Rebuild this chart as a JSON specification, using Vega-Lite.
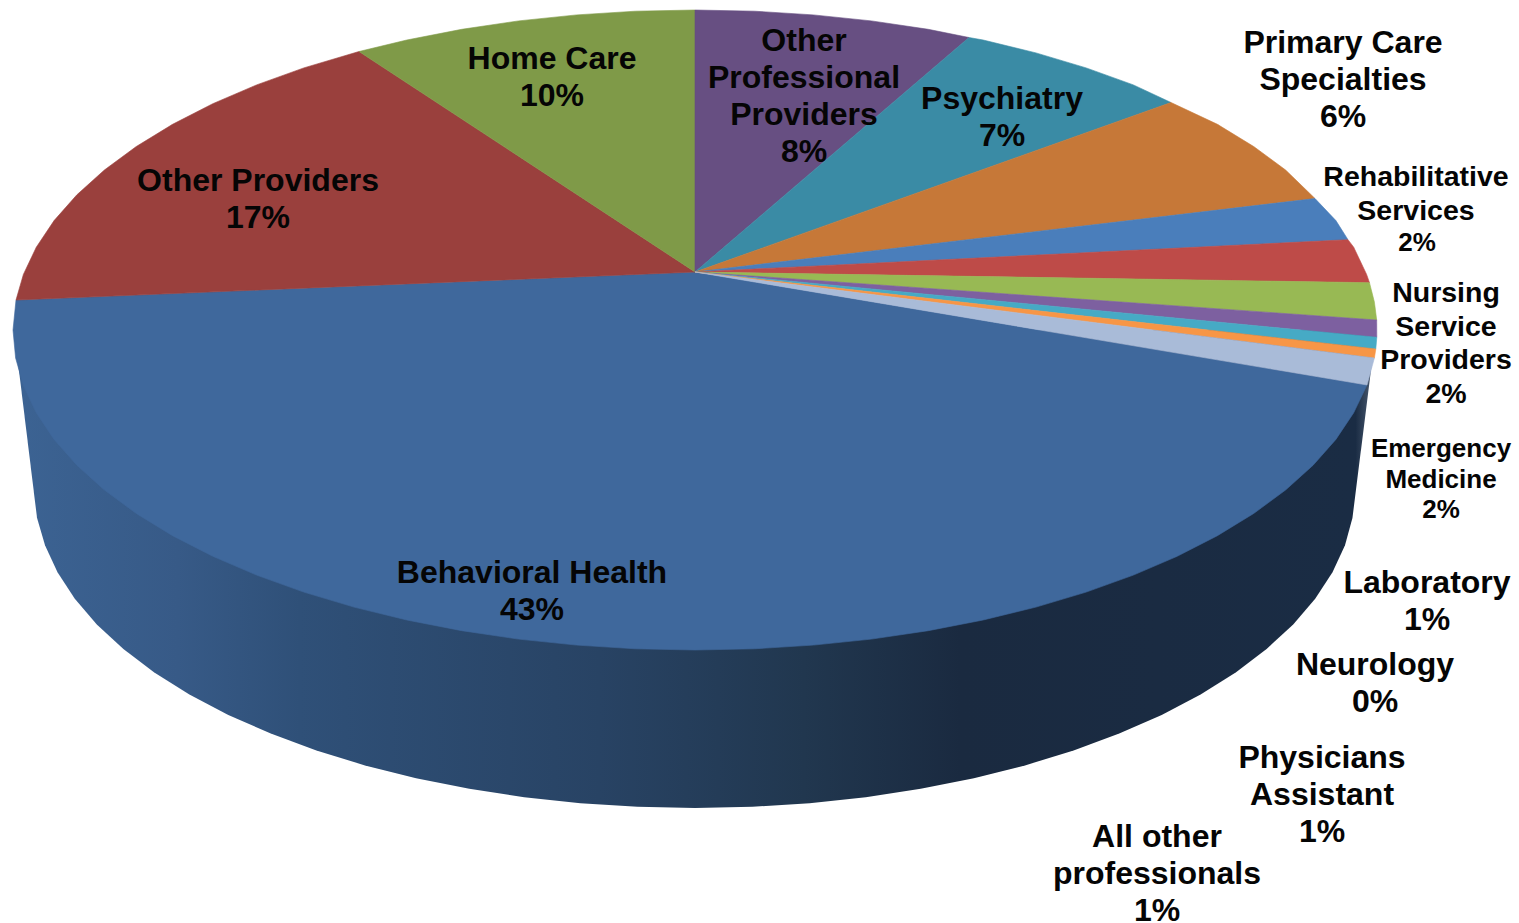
{"$schema":"https://vega.github.io/schema/vega-lite/v6.json","width":1519,"height":923,"padding":0,"autosize":{"type":"fit","contains":"padding"},"background":"white","view":{"stroke":null},
"encoding":{"x":{"field":"x","type":"quantitative","axis":null,"scale":{"domain":[0,1519],"range":[0,1519],"nice":false,"zero":false}},"y":{"field":"y","type":"quantitative","axis":null,"scale":{"domain":[0,923],"range":[0,923],"nice":false,"zero":false}}},
"layer":[
{"data":{"values":[
{"i":1,"x":1352.5,"y":517.7},{"i":2,"x":1345,"y":545.2},{"i":3,"x":1332.5,"y":572.3},{"i":4,"x":1315.2,"y":598.8},{"i":5,"x":1293.2,"y":624.4},{"i":6,"x":1266.6,"y":649},{"i":7,"x":1235.7,"y":672.4},{"i":8,"x":1200.6,"y":694.4},{"i":9,"x":1161.7,"y":714.9},{"i":10,"x":1119.2,"y":733.6},{"i":11,"x":1073.6,"y":750.5},{"i":12,"x":1025,"y":765.4},{"i":13,"x":973.9,"y":778.2},{"i":14,"x":920.7,"y":788.8},{"i":15,"x":865.8,"y":797.2},{"i":16,"x":809.6,"y":803.2},{"i":17,"x":752.5,"y":806.8},{"i":18,"x":695,"y":808},{"i":19,"x":637.5,"y":806.8},{"i":20,"x":580.4,"y":803.2},{"i":21,"x":524.2,"y":797.2},{"i":22,"x":469.3,"y":788.8},{"i":23,"x":416.1,"y":778.2},{"i":24,"x":365,"y":765.4},{"i":25,"x":316.4,"y":750.5},{"i":26,"x":270.8,"y":733.6},{"i":27,"x":228.3,"y":714.9},{"i":28,"x":189.4,"y":694.4},{"i":29,"x":154.3,"y":672.4},{"i":30,"x":123.4,"y":649},{"i":31,"x":96.8,"y":624.4},{"i":32,"x":74.8,"y":598.8},{"i":33,"x":57.5,"y":572.3},{"i":34,"x":45,"y":545.2},{"i":35,"x":37,"y":517.7},{"i":37,"x":14,"y":330},{"i":38,"x":1376,"y":330}]},
"mark":{"type":"line","interpolate":"linear","strokeWidth":0,"fill":{"gradient":"linear","x1":0,"y1":0,"x2":1,"y2":0,"stops":[{"offset":0,"color":"#3c6393"},{"offset":0.12,"color":"#375a87"},{"offset":0.21,"color":"#2f5078"},{"offset":0.43,"color":"#284364"},{"offset":0.58,"color":"#21374f"},{"offset":0.695,"color":"#1a2a40"},{"offset":0.985,"color":"#1a2c44"},{"offset":1,"color":"#56657a"}]}},
"encoding":{"order":{"field":"i","type":"quantitative"}}},
{"data":{"values":[
{"s":"Behavioral Health","i":0,"x":695,"y":272},{"s":"Behavioral Health","i":1,"x":1367,"y":385},{"s":"Behavioral Health","i":2,"x":1353.7,"y":412.8},{"s":"Behavioral Health","i":3,"x":1335.9,"y":439.4},{"s":"Behavioral Health","i":4,"x":1313.1,"y":465.2},{"s":"Behavioral Health","i":5,"x":1285.6,"y":490},{"s":"Behavioral Health","i":6,"x":1253.7,"y":513.5},{"s":"Behavioral Health","i":7,"x":1217.4,"y":535.7},{"s":"Behavioral Health","i":8,"x":1177.2,"y":556.3},{"s":"Behavioral Health","i":9,"x":1133.4,"y":575.1},{"s":"Behavioral Health","i":10,"x":1086.2,"y":592.1},{"s":"Behavioral Health","i":11,"x":1036,"y":607.1},{"s":"Behavioral Health","i":12,"x":983.2,"y":620},{"s":"Behavioral Health","i":13,"x":928.2,"y":630.7},{"s":"Behavioral Health","i":14,"x":871.5,"y":639.1},{"s":"Behavioral Health","i":15,"x":813.4,"y":645.1},{"s":"Behavioral Health","i":16,"x":754.5,"y":648.8},{"s":"Behavioral Health","i":17,"x":695,"y":650},{"s":"Behavioral Health","i":18,"x":635.5,"y":648.8},{"s":"Behavioral Health","i":19,"x":576.6,"y":645.1},{"s":"Behavioral Health","i":20,"x":518.5,"y":639.1},{"s":"Behavioral Health","i":21,"x":461.8,"y":630.7},{"s":"Behavioral Health","i":22,"x":406.8,"y":620},{"s":"Behavioral Health","i":23,"x":354,"y":607.1},{"s":"Behavioral Health","i":24,"x":303.8,"y":592.1},{"s":"Behavioral Health","i":25,"x":256.6,"y":575.1},{"s":"Behavioral Health","i":26,"x":212.8,"y":556.3},{"s":"Behavioral Health","i":27,"x":172.6,"y":535.7},{"s":"Behavioral Health","i":28,"x":136.3,"y":513.5},{"s":"Behavioral Health","i":29,"x":104.4,"y":490},{"s":"Behavioral Health","i":30,"x":76.9,"y":465.2},{"s":"Behavioral Health","i":31,"x":54.1,"y":439.4},{"s":"Behavioral Health","i":32,"x":36.3,"y":412.8},{"s":"Behavioral Health","i":33,"x":23.4,"y":385.6},{"s":"Behavioral Health","i":34,"x":15.6,"y":357.9},{"s":"Behavioral Health","i":35,"x":13,"y":330},{"s":"Behavioral Health","i":36,"x":16,"y":300},{"s":"Behavioral Health","i":37,"x":695,"y":272},
{"s":"Other Providers","i":0,"x":695,"y":272},{"s":"Other Providers","i":1,"x":16,"y":300},{"s":"Other Providers","i":2,"x":23.4,"y":274.4},{"s":"Other Providers","i":3,"x":36.3,"y":247.2},{"s":"Other Providers","i":4,"x":54.1,"y":220.6},{"s":"Other Providers","i":5,"x":76.9,"y":194.8},{"s":"Other Providers","i":6,"x":104.4,"y":170},{"s":"Other Providers","i":7,"x":136.3,"y":146.5},{"s":"Other Providers","i":8,"x":172.6,"y":124.3},{"s":"Other Providers","i":9,"x":212.8,"y":103.7},{"s":"Other Providers","i":10,"x":256.6,"y":84.9},{"s":"Other Providers","i":11,"x":303.8,"y":67.9},{"s":"Other Providers","i":12,"x":359,"y":51.5},{"s":"Other Providers","i":13,"x":695,"y":272},
{"s":"Home Care","i":0,"x":695,"y":272},{"s":"Home Care","i":1,"x":359,"y":51.5},{"s":"Home Care","i":2,"x":406.8,"y":40},{"s":"Home Care","i":3,"x":461.8,"y":29.3},{"s":"Home Care","i":4,"x":518.5,"y":20.9},{"s":"Home Care","i":5,"x":576.6,"y":14.9},{"s":"Home Care","i":6,"x":635.5,"y":11.2},{"s":"Home Care","i":7,"x":695,"y":10},{"s":"Home Care","i":8,"x":695,"y":272},
{"s":"Other Professional Providers","i":0,"x":695,"y":272},{"s":"Other Professional Providers","i":1,"x":695,"y":10},{"s":"Other Professional Providers","i":2,"x":754.5,"y":11.2},{"s":"Other Professional Providers","i":3,"x":813.4,"y":14.9},{"s":"Other Professional Providers","i":4,"x":871.5,"y":20.9},{"s":"Other Professional Providers","i":5,"x":928.2,"y":29.3},{"s":"Other Professional Providers","i":6,"x":969,"y":37.5},{"s":"Other Professional Providers","i":7,"x":695,"y":272},
{"s":"Psychiatry","i":0,"x":695,"y":272},{"s":"Psychiatry","i":1,"x":969,"y":37.5},{"s":"Psychiatry","i":2,"x":983.2,"y":40},{"s":"Psychiatry","i":3,"x":1036,"y":52.9},{"s":"Psychiatry","i":4,"x":1086.2,"y":67.9},{"s":"Psychiatry","i":5,"x":1133.4,"y":84.9},{"s":"Psychiatry","i":6,"x":1171,"y":102.5},{"s":"Psychiatry","i":7,"x":695,"y":272},
{"s":"Primary Care Specialties","i":0,"x":695,"y":272},{"s":"Primary Care Specialties","i":1,"x":1171,"y":102.5},{"s":"Primary Care Specialties","i":2,"x":1217.4,"y":124.3},{"s":"Primary Care Specialties","i":3,"x":1253.7,"y":146.5},{"s":"Primary Care Specialties","i":4,"x":1285.6,"y":170},{"s":"Primary Care Specialties","i":5,"x":1315,"y":198.5},{"s":"Primary Care Specialties","i":6,"x":695,"y":272},
{"s":"Rehabilitative Services","i":0,"x":695,"y":272},{"s":"Rehabilitative Services","i":1,"x":1315,"y":198.5},{"s":"Rehabilitative Services","i":2,"x":1335.9,"y":220.6},{"s":"Rehabilitative Services","i":3,"x":1348,"y":239.7},{"s":"Rehabilitative Services","i":4,"x":695,"y":272},
{"s":"Nursing Service Providers","i":0,"x":695,"y":272},{"s":"Nursing Service Providers","i":1,"x":1348,"y":239.7},{"s":"Nursing Service Providers","i":2,"x":1353.7,"y":247.2},{"s":"Nursing Service Providers","i":3,"x":1366.6,"y":274.4},{"s":"Nursing Service Providers","i":4,"x":1369.5,"y":282.7},{"s":"Nursing Service Providers","i":5,"x":695,"y":272},
{"s":"Emergency Medicine","i":0,"x":695,"y":272},{"s":"Emergency Medicine","i":1,"x":1369.5,"y":282.7},{"s":"Emergency Medicine","i":2,"x":1374.4,"y":302.1},{"s":"Emergency Medicine","i":3,"x":1376.7,"y":320},{"s":"Emergency Medicine","i":4,"x":695,"y":272},
{"s":"Laboratory","i":0,"x":695,"y":272},{"s":"Laboratory","i":1,"x":1376.7,"y":320},{"s":"Laboratory","i":2,"x":1376.8,"y":337.3},{"s":"Laboratory","i":3,"x":695,"y":272},
{"s":"Neurology","i":0,"x":695,"y":272},{"s":"Neurology","i":1,"x":1376.8,"y":337.3},{"s":"Neurology","i":2,"x":1375.8,"y":349},{"s":"Neurology","i":3,"x":695,"y":272},
{"s":"Physicians Assistant","i":0,"x":695,"y":272},{"s":"Physicians Assistant","i":1,"x":1375.8,"y":349},{"s":"Physicians Assistant","i":2,"x":1374.4,"y":358},{"s":"Physicians Assistant","i":3,"x":695,"y":272},
{"s":"All other professionals","i":0,"x":695,"y":272},{"s":"All other professionals","i":1,"x":1374.4,"y":358},{"s":"All other professionals","i":2,"x":1367,"y":385},{"s":"All other professionals","i":3,"x":695,"y":272}
]},
"mark":{"type":"line","interpolate":"linear","strokeWidth":0.6},
"encoding":{"order":{"field":"i","type":"quantitative"},
"fill":{"field":"s","type":"nominal","legend":null,"scale":{"domain":["Behavioral Health","Other Providers","Home Care","Other Professional Providers","Psychiatry","Primary Care Specialties","Rehabilitative Services","Nursing Service Providers","Emergency Medicine","Laboratory","Neurology","Physicians Assistant","All other professionals"],"range":["#3f689c","#9a403d","#7f9a48","#674f82","#3a8ba5","#c67838","#4a7ebb","#be4b48","#98b954","#7d60a0","#46aac5","#f79646","#a9bbd8"]}},
"stroke":{"field":"s","type":"nominal","legend":null,"scale":{"domain":["Behavioral Health","Other Providers","Home Care","Other Professional Providers","Psychiatry","Primary Care Specialties","Rehabilitative Services","Nursing Service Providers","Emergency Medicine","Laboratory","Neurology","Physicians Assistant","All other professionals"],"range":["#3f689c","#9a403d","#7f9a48","#674f82","#3a8ba5","#c67838","#4a7ebb","#be4b48","#98b954","#7d60a0","#46aac5","#f79646","#a9bbd8"]}}}},
{"data":{"values":[
{"t":"Behavioral Health|43%","x":532,"y":573},{"t":"Other Providers|17%","x":258,"y":181},{"t":"Home Care|10%","x":552,"y":59},{"t":"Other|Professional|Providers|8%","x":804,"y":41},{"t":"Psychiatry|7%","x":1002,"y":99},{"t":"Primary Care|Specialties|6%","x":1343,"y":43},{"t":"Laboratory|1%","x":1427,"y":583},{"t":"Neurology|0%","x":1375,"y":665},{"t":"Physicians|Assistant|1%","x":1322,"y":758},{"t":"All other|professionals|1%","x":1157,"y":837}]},
"mark":{"type":"text","font":"Liberation Sans","fontWeight":"bold","fontSize":32,"lineHeight":37,"lineBreak":"|","align":"center","baseline":"middle","color":"#050505"},
"encoding":{"text":{"field":"t","type":"nominal"}}},
{"data":{"values":[{"t":"Rehabilitative|Services","x":1416,"y":177},{"t":"Nursing|Service|Providers|2%","x":1446,"y":293}]},
"mark":{"type":"text","font":"Liberation Sans","fontWeight":"bold","fontSize":28.5,"lineHeight":33.5,"lineBreak":"|","align":"center","baseline":"middle","color":"#050505"},
"encoding":{"text":{"field":"t","type":"nominal"}}},
{"data":{"values":[{"t":"2%","x":1417,"y":243},{"t":"Emergency|Medicine|2%","x":1441,"y":449}]},
"mark":{"type":"text","font":"Liberation Sans","fontWeight":"bold","fontSize":26,"lineHeight":30.5,"lineBreak":"|","align":"center","baseline":"middle","color":"#050505"},
"encoding":{"text":{"field":"t","type":"nominal"}}}
]}
